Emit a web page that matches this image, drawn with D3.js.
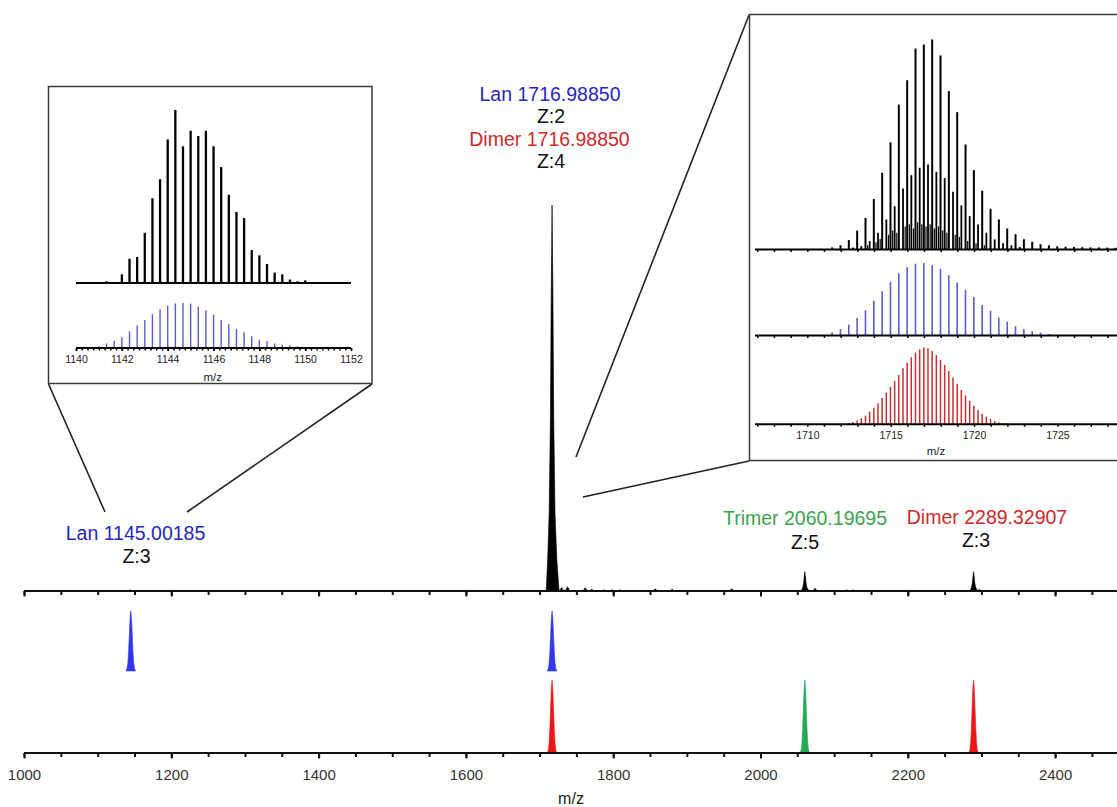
<!DOCTYPE html>
<html><head><meta charset="utf-8">
<script src="https://cdn.jsdelivr.net/npm/d3@7"></script>
<style>
html,body{margin:0;padding:0;background:#fff;}
svg{display:block;font-family:"Liberation Sans",Arial,Helvetica,sans-serif;}
</style></head>
<body><svg id="c" width="1117" height="807"></svg>
<script>
// ---------------- DATA ----------------
// Main experimental spectrum (centroid m/z, relative intensity %)
const mainPeakMz  = [1144, 1717, 1723, 1730, 1738, 1762, 1771, 1787, 1798, 1809, 1857, 1880, 1961, 2060.2, 2074, 2117, 2126, 2289.3, 2297];
const mainPeakInt = [0.3, 100, 2.0, 0.9, 1.1, 0.85, 0.5, 0.3, 0.35, 0.3, 0.6, 0.5, 0.6, 5.0, 0.7, 0.3, 0.3, 5.0, 0.4];
// Theoretical envelopes in the main panels
const lanTheoMz    = [1145.00185, 1716.98850];
const dimerTheoMz  = [1716.98850, 2289.32907];
const trimerTheoMz = [2060.19695];
const theoInt = 100;
// Main axis ticks
const mainMajorTicks = [1000, 1200, 1400, 1600, 1800, 2000, 2200, 2400];
const mainMinorStep = 50;

// Left inset: Lan z=3
const lanZ3Mono = 1145.00185, lanZ3Charge = 3;
const leftExpK   = [-11,-10,-9,-8,-7,-6,-5,-4,-3,-2,-1,0,1,2,3,4,5,6,7,8,9,10,11,12,13,14,15,18,19];
const leftExpInt = [1,0.5,5,14,15,29,49,60,83,100,79,88,85,88,79,67,51,41,37.5,19,16,11,6,5,2,1,1.5,0.5,0.5];
const leftTheoK   = [-12,-11,-10,-9,-8,-7,-6,-5,-4,-3,-2,-1,0,1,2,3,4,5,6,7,8,9,10,11,12,13,14];
const leftTheoInt = [4,10,16,24,37,50,62,75,86,94,99,100,98.5,92,84,74,62,53,42,35,26,18.5,15.5,10,7,6,4];
const leftTickLabels = [1140, 1142, 1144, 1146, 1148, 1150, 1152];

// Right inset: experimental isotope cluster around 1717
const rightExpMainMz  = [1711.49,1711.99,1712.49,1712.99,1713.49,1713.99,1714.49,1714.99,1715.49,1715.99,1716.49,1716.99,1717.49,1717.99,1718.49,1718.99,1719.49,1719.99,1720.49,1720.99,1721.49,1721.99,1722.49,1722.99,1723.49,1723.99,1724.49,1724.99,1725.49,1725.99,1726.49,1726.99,1727.49,1727.99,1728.49,1728.99];
const rightExpMainInt = [1,2,4.5,9,15,24,36.5,51,69,80.6,95.7,97.6,100,92.4,75.4,65.4,50,37.8,28,19.4,14.3,10,7.3,4.9,3.7,2.5,2,1.5,1.3,1.2,1.1,1,1,0.9,0.8,0.7];
const rightExpQuarterMz  = [1712.74,1713.24,1713.74,1714.24,1714.74,1715.24,1715.74,1716.24,1716.74,1717.24,1717.74,1718.24,1718.74,1719.24,1719.74,1720.24,1720.74,1721.24,1721.74,1722.24,1722.74];
const rightExpQuarterInt = [1,1.6,4,8,14.3,20.6,29,35.4,38.9,40.5,37,34,27.5,21,15.9,11.9,8,4.8,3,2,1.2];
const rightExpMinorMz  = [1713.62,1714.12,1714.37,1714.87,1715.12,1715.37,1715.87,1716.12,1716.37,1716.62,1716.87,1717.12,1717.37,1717.62,1717.87,1718.12,1718.37,1718.87,1719.12,1719.62,1720.12,1720.62];
const rightExpMinorInt = [2,3.5,5,7,9,8,11,12,10,13,12,11,12,10,11,9,8,7,6,4,3,2];
// Lan z=2 theoretical
const lanZ2Mono = 1716.98850, lanZ2Charge = 2;
const rightLanK   = [-11,-10,-9,-8,-7,-6,-5,-4,-3,-2,-1,0,1,2,3,4,5,6,7,8,9,10,11,12,13,14,15];
const rightLanInt = [4,9,15,24,35,48,61,74,86,94,99,100,97,92,83,73,63,53,42,34,25,19,13,9,6,4,2];
// Dimer z=4 theoretical
const dimerZ4Mono = 1716.98850, dimerZ4Charge = 4;
const rightDimerK   = d3.range(-18, 23);
const rightDimerInt = [1.7,3,5.2,7.8,11.3,16.5,21.7,27.4,34.3,41.3,48.7,56.5,64.3,73,80.4,87.4,93.5,97.8,100,99.1,95.7,90.4,83.9,77.4,69.6,60.9,53,44.8,37.4,30.9,24.3,18.7,13.9,10,7,4.3,2.6,1.3,0.9,0.4,0.2];
const rightTickLabels = [1710, 1715, 1720, 1725];

// ---------------- STYLE ----------------
const C = {blueText:"#2626c4", redText:"#d0282c", greenText:"#3aa352",
           bluePeak:"#3535ee", redPeak:"#ee1515", greenPeak:"#22aa55",
           blueStick:"#5a5ad6", redStick:"#c52f33", axis:"#111", tickText:"#333"};
// normalized peak shapes (offset in widths, fraction of height)
const spikeProfile = [[-3.2,0],[-2.4,0.08],[-1.6,0.2],[-0.9,0.45],[-0.45,0.78],[0,1],[0.45,0.78],[0.9,0.45],[1.6,0.2],[2.6,0.08],[3.8,0]];
const gaussProfile = [[-3.2,0],[-2.5,0.044],[-2,0.135],[-1.5,0.325],[-1,0.607],[-0.5,0.882],[0,1],[0.5,0.882],[1,0.607],[1.5,0.325],[2,0.135],[2.5,0.044],[3.2,0]];

const svg = d3.select("#c");
svg.append("rect").attr("width",1117).attr("height",807).attr("fill","#fff");

function drawPeak(g, xs, ys, m, h, w, profile, color){
  const area = d3.area().x(d=>xs(m+d[0]*w)).y0(ys(0)).y1(d=>ys(h*d[1]));
  g.append("path").attr("d", area(profile)).attr("fill", color).attr("stroke", color).attr("stroke-width",0.6);
}

// ---------------- MAIN PANEL ----------------
const x = d3.scaleLinear().domain([1000, 2500]).range([24, 24 + 1500*0.7365]);
const yTop  = d3.scaleLinear().domain([0,100]).range([591, 205]);
const yBlue = d3.scaleLinear().domain([0,100]).range([671, 611]);
const yRed  = d3.scaleLinear().domain([0,100]).range([753, 680]);

const gMain = svg.append("g");
mainPeakMz.forEach((m,i)=> drawPeak(gMain, x, yTop, m, mainPeakInt[i], mainPeakInt[i] > 50 ? 2.5 : 1.7, spikeProfile, "#000"));
lanTheoMz.forEach(m=> drawPeak(gMain, x, yBlue, m, theoInt, 2.0, gaussProfile, C.bluePeak));
dimerTheoMz.forEach(m=> drawPeak(gMain, x, yRed, m, theoInt, 2.0, gaussProfile, C.redPeak));
trimerTheoMz.forEach(m=> drawPeak(gMain, x, yRed, m, theoInt, 2.0, gaussProfile, C.greenPeak));

function mainAxis(yPos, labels){
  const g = svg.append("g").attr("transform",`translate(0,${yPos})`);
  g.call(d3.axisBottom(x).tickValues(d3.range(1000, 2501, mainMinorStep)).tickSize(4).tickFormat(""));
  const gM = svg.append("g").attr("transform",`translate(0,${yPos})`);
  gM.call(d3.axisBottom(x).tickValues(mainMajorTicks).tickSize(5.5).tickPadding(11).tickFormat(labels? d3.format("d") : ""));
  [g,gM].forEach(a=>{
    a.select(".domain").attr("stroke",C.axis).attr("stroke-width",2).attr("d",`M${x(1000)},0H${x(2500)}`);
    a.selectAll(".tick line").attr("stroke",C.axis).attr("stroke-width",2);
  });
  gM.selectAll(".tick text").attr("fill",C.tickText).style("font-size","15px");
}
mainAxis(591,false);
mainAxis(753,true);
svg.append("text").attr("x",571).attr("y",804).attr("text-anchor","middle")
  .style("font-size","16px").attr("fill","#222").text("m/z");

// main annotations
const ann = [
  ["Lan 1145.00185", C.blueText, 135.5, 540],
  ["Z:3", "#111", 136.5, 563],
  ["Lan 1716.98850", C.blueText, 550, 101],
  ["Z:2", "#111", 551, 123],
  ["Dimer 1716.98850", C.redText, 549.5, 145.5],
  ["Z:4", "#111", 551, 168],
  ["Trimer 2060.19695", C.greenText, 805, 525],
  ["Z:5", "#111", 805, 549],
  ["Dimer 2289.32907", C.redText, 987, 524],
  ["Z:3", "#111", 976, 547]
];
ann.forEach(a=> svg.append("text").attr("x",a[2]).attr("y",a[3]).attr("text-anchor","middle")
  .style("font-size","19.5px").attr("fill",a[1]).text(a[0]));

// connector lines
const conn = [[48.5,384,105,512],[372,384,187,512],[749,15,576,457],[749,461,583,497]];
conn.forEach(c=> svg.append("line").attr("x1",c[0]).attr("y1",c[1]).attr("x2",c[2]).attr("y2",c[3])
  .attr("stroke","#222").attr("stroke-width",1.6));

// ---------------- LEFT INSET ----------------
const gL = svg.append("g");
gL.append("rect").attr("x",48.5).attr("y",86.5).attr("width",323.5).attr("height",297)
  .attr("fill","#fff").attr("stroke","#3a3a3a").attr("stroke-width",1.5);
const xL = d3.scaleLinear().domain([1140,1152]).range([76,351]);
const yLB = d3.scaleLinear().domain([0,100]).range([283,110]);
const yLT = d3.scaleLinear().domain([0,100]).range([348,303]);
leftExpK.forEach((k,i)=>{
  const m = lanZ3Mono + k/lanZ3Charge;
  gL.append("line").attr("x1",xL(m)).attr("x2",xL(m)).attr("y1",yLB(0)).attr("y2",yLB(leftExpInt[i]))
    .attr("stroke","#000").attr("stroke-width",2.3);
});
leftTheoK.forEach((k,i)=>{
  const m = lanZ3Mono + k/lanZ3Charge;
  gL.append("line").attr("x1",xL(m)).attr("x2",xL(m)).attr("y1",yLT(0)).attr("y2",yLT(leftTheoInt[i]))
    .attr("stroke",C.blueStick).attr("stroke-width",1.4);
});
gL.append("line").attr("x1",xL(1140)).attr("x2",xL(1152)).attr("y1",yLB(0)).attr("y2",yLB(0))
  .attr("stroke","#000").attr("stroke-width",2);
const axL = gL.append("g").attr("transform",`translate(0,${yLT(0)})`)
  .call(d3.axisBottom(xL).tickValues(d3.range(1140,1152.01,0.25)).tickSize(2.5).tickFormat(""));
const axL2 = gL.append("g").attr("transform",`translate(0,${yLT(0)})`)
  .call(d3.axisBottom(xL).tickValues(leftTickLabels).tickSize(3).tickPadding(5).tickFormat(d3.format("d")));
[axL,axL2].forEach(a=>{ a.select(".domain").attr("stroke","#000").attr("stroke-width",2).attr("d",`M${xL(1140)},0H${xL(1152)}`);
  a.selectAll(".tick line").attr("stroke","#000").attr("stroke-width",1.5);});
axL2.selectAll(".tick text").style("font-size","10.5px").attr("fill","#222");
gL.append("text").attr("x",212.7).attr("y",381).attr("text-anchor","middle").style("font-size","11.5px").attr("fill","#222").text("m/z");

// ---------------- RIGHT INSET ----------------
const gR = svg.append("g");
gR.append("rect").attr("x",749.5).attr("y",14.5).attr("width",420).attr("height",446)
  .attr("fill","#fff").attr("stroke","#3a3a3a").attr("stroke-width",1.5);
const xR = d3.scaleLinear().domain([1710,1725]).range([807.3,1057.4]);
const yRB = d3.scaleLinear().domain([0,100]).range([249.5,39.5]);
const yRL = d3.scaleLinear().domain([0,100]).range([335.5,263]);
const yRD = d3.scaleLinear().domain([0,100]).range([424.3,347.6]);
function sticks(g, mz, ints, ys, color, w){
  mz.forEach((m,i)=> g.append("line").attr("x1",xR(m)).attr("x2",xR(m)).attr("y1",ys(0)).attr("y2",ys(ints[i]))
    .attr("stroke",color).attr("stroke-width",w));
}
sticks(gR, rightExpMinorMz, rightExpMinorInt, yRB, "#000", 1.2);
sticks(gR, rightExpQuarterMz, rightExpQuarterInt, yRB, "#000", 1.8);
sticks(gR, rightExpMainMz, rightExpMainInt, yRB, "#000", 2.0);
sticks(gR, rightLanK.map(k=>lanZ2Mono + k/lanZ2Charge), rightLanInt, yRL, C.blueStick, 1.6);
sticks(gR, rightDimerK.map(k=>dimerZ4Mono + k/dimerZ4Charge), rightDimerInt, yRD, C.redStick, 1.5);
function rAxis(ys, labels){
  const a = gR.append("g").attr("transform",`translate(0,${ys(0)})`)
    .call(d3.axisBottom(xR).tickValues(d3.range(1707,1730,1)).tickSize(2.5).tickPadding(5)
      .tickFormat(d=> labels && rightTickLabels.includes(d) ? d : ""));
  a.select(".domain").attr("stroke","#000").attr("stroke-width",2).attr("d",`M755,0H${xR(1730)}`);
  a.selectAll(".tick line").attr("stroke","#000").attr("stroke-width",1.5);
  a.selectAll(".tick text").style("font-size","10.5px").attr("fill","#222");
}
rAxis(yRB,false); rAxis(yRL,false); rAxis(yRD,true);
gR.append("text").attr("x",936).attr("y",455).attr("text-anchor","middle").style("font-size","11.5px").attr("fill","#222").text("m/z");
</script></body></html>
